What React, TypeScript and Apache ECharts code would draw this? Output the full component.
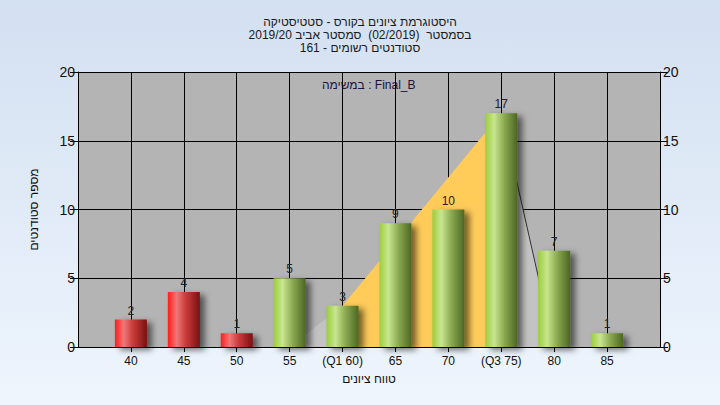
import React, { useEffect, useRef } from "react";
import * as echarts from "echarts";

const grades = [40, 45, 50, 55, 60, 65, 70, 75, 80, 85];
const counts = [2, 4, 1, 5, 3, 9, 10, 17, 7, 1];
const passFrom = 55;
const tickLabels: Record<number, string> = {
  40: "40", 45: "45", 50: "50", 55: "55", 60: "(Q1 60)", 65: "65", 70: "70", 75: "(Q3 75)", 80: "80", 85: "85",
};
const leftArea = [[55, 0], [60, 3]];
const iqrArea = [[60, 3], [75, 17]];
const rightArea = [[75, 17], [80, 0]];
const titleLines = [
  "היסטוגרמת ציונים בקורס - סטטיסטיקה",
  "בסמסטר  (02/2019)  סמסטר אביב 2019/20",
  "סטודנטים רשומים - 161",
];
const subTitle = "במשימה : Final_B";
const xName = "טווח ציונים";
const yName = "מספר סטודנטים";

const FONT = "'Liberation Sans', 'DejaVu Sans', sans-serif";

const redGrad = new echarts.graphic.LinearGradient(0, 0, 1, 0, [
  { offset: 0, color: "#ff1c1c" },
  { offset: 0.28, color: "#f07878" },
  { offset: 0.55, color: "#cc3c3c" },
  { offset: 1, color: "#7a1212" },
]);
const greenGrad = new echarts.graphic.LinearGradient(0, 0, 1, 0, [
  { offset: 0, color: "#9ccd3c" },
  { offset: 0.28, color: "#c8e690" },
  { offset: 0.6, color: "#8aa850" },
  { offset: 1, color: "#4c6722" },
]);

export default function App() {
  const ref = useRef<HTMLDivElement>(null);
  useEffect(() => {
    const chart = echarts.init(ref.current!, undefined, { renderer: "svg" });
    const axisCommon = {
      type: "value" as const,
      min: 0,
      max: 20,
      interval: 5,
      axisLine: { show: true, lineStyle: { color: "#000", width: 1 } },
      axisTick: { show: true, length: 8, lineStyle: { color: "#000" } },
      axisLabel: { fontSize: 14, color: "#111", fontFamily: FONT, margin: 3 },
    };
    chart.setOption({
      animation: false,
      textStyle: { fontFamily: FONT },
      title: {
        text: titleLines.join("\n"),
        left: "center",
        top: 10,
        textStyle: { fontSize: 12, fontWeight: "normal", color: "#1a1a1a", lineHeight: 13, fontFamily: FONT },
      },
      graphic: [
        {
          type: "text",
          left: 322,
          top: 79,
          style: { text: subTitle, fontSize: 12, fill: "#201040", fontFamily: FONT },
        },
      ],
      grid: {
        left: 78,
        right: 60,
        top: 72,
        bottom: 58,
        show: true,
        backgroundColor: "#b4b4b4",
        borderWidth: 0,
      },
      xAxis: {
        type: "value",
        min: 35,
        max: 90,
        interval: 5,
        name: xName,
        nameLocation: "middle",
        nameGap: 26,
        nameTextStyle: { fontSize: 12, color: "#111", fontFamily: FONT },
        axisLine: { show: true, onZero: false, lineStyle: { color: "#000" } },
        axisTick: { show: true, length: 5, lineStyle: { color: "#000" } },
        axisLabel: {
          fontSize: 12,
          color: "#111",
          margin: 8,
          fontFamily: FONT,
          showMinLabel: false,
          showMaxLabel: false,
          formatter: (v: number) => tickLabels[v] ?? "",
        },
        splitLine: { show: true, lineStyle: { color: "#000", width: 1 } },
      },
      yAxis: [
        {
          ...axisCommon,
          position: "left",
          name: yName,
          nameLocation: "middle",
          nameGap: 38,
          nameRotate: 90,
          nameTextStyle: { fontSize: 12, color: "#111", fontFamily: FONT },
          splitLine: { show: true, lineStyle: { color: "#000", width: 1 } },
        },
        {
          ...axisCommon,
          position: "right",
          splitLine: { show: false },
        },
      ],
      series: [
        {
          type: "line",
          data: leftArea,
          symbol: "none",
          lineStyle: { width: 0 },
          areaStyle: { color: "#c3c3c3", opacity: 1 },
          z: 1,
        },
        {
          type: "line",
          data: iqrArea,
          symbol: "none",
          lineStyle: { width: 0 },
          areaStyle: { color: "#ffcc5a", opacity: 1 },
          z: 1,
        },
        {
          type: "line",
          data: rightArea,
          symbol: "none",
          lineStyle: { width: 1, color: "#333" },
          areaStyle: { color: "#c3c3c3", opacity: 1 },
          z: 1,
        },
        {
          type: "bar",
          barWidth: 32,
          z: 3,
          data: grades.map((g, i) => ({
            value: [g, counts[i]],
            itemStyle: { color: g < passFrom ? redGrad : greenGrad },
          })),
          itemStyle: {
            shadowBlur: 6,
            shadowOffsetX: 5,
            shadowOffsetY: 3,
            shadowColor: "rgba(0,0,0,0.55)",
          },
          label: {
            show: true,
            position: "top",
            distance: 3,
            fontSize: 12,
            color: "#222",
            fontFamily: FONT,
            formatter: (p: any) => String(p.value[1]),
          },
        },
      ],
    });
    return () => chart.dispose();
  }, []);
  return (
    <div
      style={{
        position: "fixed",
        left: 0,
        top: 0,
        width: 720,
        height: 405,
        background: "linear-gradient(180deg, #d3e0f1 0%, #eef5fd 100%)",
      }}
    >
      <div ref={ref} style={{ width: 720, height: 405 }} />
    </div>
  );
}
